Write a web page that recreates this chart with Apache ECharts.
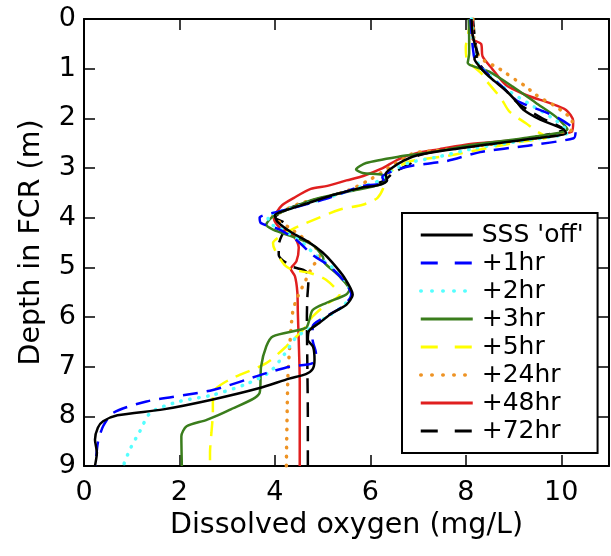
<!DOCTYPE html>
<html>
<head>
<meta charset="utf-8">
<script src="https://cdn.jsdelivr.net/npm/echarts@6/dist/echarts.min.js"></script>
<style>
html,body{margin:0;padding:0;background:#fff;}
#chart{width:611px;height:556px;}
</style>
</head>
<body>
<div id="chart"></div>
<script>
// Series names (legend labels)
var seriesNames = ["SSS 'off'", "+1hr", "+2hr", "+3hr", "+5hr", "+24hr", "+48hr", "+72hr"];
var xTicks = [0, 2, 4, 6, 8, 10];
var yTicks = [0, 1, 2, 3, 4, 5, 6, 7, 8, 9];

// Each profile: [dissolved oxygen (mg/L), depth (m)]
var sssOff = [[8.12,0],[8.14,0.3],[8.2,0.55],[8.25,0.7],[8.18,0.8],[8.28,0.95],[8.42,1.1],[8.6,1.25],[8.85,1.45],[9.05,1.65],[9.2,1.82],[9.55,2.02],[10.05,2.22],[10.1,2.3],[9.3,2.42],[8.5,2.52],[7.6,2.64],[7.0,2.74],[6.7,2.85],[6.45,3.0],[6.32,3.12],[6.35,3.25],[6.15,3.35],[5.8,3.4],[5.2,3.55],[4.65,3.72],[4.2,3.86],[4.0,3.95],[4.05,4.08],[4.35,4.3],[4.72,4.5],[5.0,4.7],[5.2,4.9],[5.45,5.2],[5.63,5.55],[5.5,5.75],[5.2,5.92],[4.93,6.12],[4.72,6.27],[4.69,6.46],[4.8,6.6],[4.83,6.86],[4.79,7.05],[4.65,7.15],[4.3,7.24],[3.68,7.43],[2.7,7.66],[1.66,7.86],[0.7,7.98],[0.4,8.1],[0.29,8.23],[0.23,8.47],[0.27,8.73],[0.23,9.0]];
var hr1 = [[8.1,0],[8.12,0.3],[8.15,0.6],[8.2,0.85],[8.45,1.1],[8.8,1.4],[9.05,1.63],[9.26,1.73],[9.6,1.85],[9.95,2.0],[10.3,2.27],[10.26,2.4],[9.3,2.55],[8.3,2.68],[7.6,2.86],[6.9,2.95],[6.6,3.02],[6.25,3.18],[6.3,3.3],[5.84,3.36],[5.07,3.62],[4.24,3.84],[3.68,4.0],[3.71,4.11],[4.1,4.24],[4.45,4.45],[4.79,4.75],[5.15,4.98],[5.49,5.32],[5.6,5.55],[5.42,5.79],[5.07,5.99],[4.79,6.19],[4.79,6.46],[4.86,6.73],[4.79,6.93],[4.31,7.0],[3.82,7.13],[2.7,7.47],[1.31,7.7],[0.61,7.93],[0.4,8.2],[0.29,8.53],[0.24,9.0]];
var hr2 = [[8.12,0],[8.15,0.4],[8.2,0.8],[8.45,1.1],[8.9,1.45],[9.4,1.75],[9.9,2.05],[10.15,2.28],[9.2,2.45],[8.2,2.6],[7.4,2.78],[6.8,2.9],[6.4,3.08],[6.2,3.25],[5.8,3.38],[5.1,3.6],[4.3,3.82],[3.85,3.98],[3.9,4.12],[4.2,4.26],[4.55,4.48],[4.85,4.75],[5.2,5.0],[5.5,5.3],[5.6,5.55],[5.4,5.8],[5.0,6.05],[4.7,6.25],[4.45,6.4],[4.2,6.75],[3.9,7.1],[3.4,7.35],[2.7,7.57],[2.0,7.7],[1.4,7.92],[1.17,8.3],[0.96,8.67],[0.82,9.0]];
var hr3 = [[8.06,0],[8.07,0.4],[8.07,0.7],[8.04,0.88],[8.49,1.06],[8.98,1.36],[9.47,1.69],[9.89,1.97],[10.13,2.22],[9.2,2.4],[8.08,2.54],[7.3,2.68],[6.61,2.77],[5.91,2.9],[5.7,3.03],[5.84,3.1],[6.26,3.14],[6.34,3.24],[6.19,3.34],[5.56,3.47],[4.87,3.62],[4.35,3.8],[3.95,3.98],[3.82,4.14],[3.96,4.24],[4.45,4.41],[4.79,4.55],[5.0,4.78],[5.04,4.91],[5.35,5.18],[5.56,5.45],[5.49,5.55],[5.07,5.72],[4.79,5.86],[4.72,6.06],[4.65,6.22],[3.96,6.39],[3.82,6.59],[3.71,7.0],[3.68,7.53],[3.05,7.87],[2.57,8.07],[2.15,8.2],[2.04,8.4],[2.05,9.0]];
var hr5 = [[8.1,0],[8.05,0.3],[8.0,0.56],[8.03,0.83],[8.32,1.09],[8.42,1.23],[8.74,1.6],[8.91,1.86],[9.26,2.1],[9.5,2.27],[9.7,2.38],[9.16,2.47],[8.7,2.55],[7.66,2.75],[6.82,2.87],[6.45,3.05],[6.26,3.24],[6.3,3.3],[6.15,3.6],[5.84,3.74],[5.35,3.84],[4.65,4.11],[4.41,4.21],[4.1,4.38],[3.96,4.51],[4.0,4.65],[4.2,4.95],[4.37,5.05],[4.72,5.11],[5.07,5.25],[5.35,5.55],[5.07,5.75],[4.79,5.99],[4.65,6.19],[4.24,6.59],[3.82,6.93],[3.05,7.26],[2.7,7.53],[2.7,7.93],[2.67,8.33],[2.64,8.73],[2.64,8.9]];
var hr24 = [[8.15,0],[8.17,0.4],[8.25,0.7],[8.4,0.85],[8.63,0.96],[8.84,1.09],[9.05,1.23],[9.26,1.36],[9.43,1.5],[9.64,1.63],[9.89,1.76],[10.03,1.87],[10.23,2.03],[10.2,2.25],[9.3,2.42],[8.3,2.55],[7.4,2.65],[6.92,2.7],[6.54,2.9],[5.98,3.24],[5.49,3.47],[5.0,3.6],[4.5,3.72],[4.1,3.9],[3.95,3.98],[4.3,4.2],[4.65,4.45],[4.85,4.6],[4.93,4.78],[4.79,4.98],[4.65,5.25],[4.45,5.65],[4.37,5.92],[4.31,6.59],[4.27,7.26],[4.24,9.0]];
var hr48 = [[8.14,0],[8.14,0.4],[8.32,0.5],[8.35,0.75],[8.55,1.0],[8.84,1.33],[9.26,1.53],[9.75,1.69],[10.1,1.83],[10.25,2.05],[10.22,2.27],[9.1,2.43],[8.06,2.52],[7.45,2.62],[7.0,2.69],[6.6,2.82],[6.22,3.02],[5.85,3.16],[5.5,3.25],[5.1,3.36],[4.75,3.42],[4.4,3.6],[4.15,3.75],[4.03,3.9],[3.98,4.02],[4.08,4.18],[4.4,4.38],[4.5,4.6],[4.45,4.88],[4.33,5.03],[4.42,5.18],[4.47,5.5],[4.48,5.9],[4.5,6.5],[4.52,7.3],[4.52,8.0],[4.52,9.0]];
var hr72 = [[8.15,0],[8.18,0.3],[8.22,0.6],[8.25,0.85],[8.45,1.1],[8.8,1.4],[9.1,1.7],[9.6,2.0],[10.05,2.22],[9.3,2.4],[8.5,2.5],[7.6,2.62],[7.0,2.75],[6.82,2.92],[6.47,3.1],[6.3,3.25],[5.9,3.38],[5.3,3.52],[4.7,3.68],[4.2,3.85],[4.0,4.0],[4.16,4.08],[4.27,4.18],[4.15,4.35],[4.08,4.55],[4.08,4.75],[4.35,4.98],[4.65,5.08],[4.7,5.3],[4.68,5.6],[4.67,6.0],[4.68,7.0],[4.69,8.0],[4.69,9.0]];

var profiles = [sssOff, hr1, hr2, hr3, hr5, hr24, hr48, hr72];
var styles = [
  {color:'#000000', type:'solid', legendType:'solid'},
  {color:'#0000ff', type:[15,9], legendType:[17,17]},
  {color:'#55ffff', type:[0.5,8.5], cap:'round', width:3.5, legendType:[0.5,10.5]},
  {color:'#3a7d1c', type:'solid', legendType:'solid'},
  {color:'#ffff00', type:[15,9], legendType:[17,17]},
  {color:'#ee9324', type:[0.5,8.5], cap:'round', width:3.5, legendType:[0.5,10.5]},
  {color:'#e01f1f', type:'solid', legendType:'solid'},
  {color:'#000000', type:[15,9], legendType:[17,17]}
];

var FONT = 'DejaVu Sans';
var series = profiles.map(function(p, i){
  var s = styles[i];
  return {
    name: seriesNames[i],
    type: 'line',
    data: p,
    xAxisIndex: 0, yAxisIndex: 0,
    symbol: 'none',
    smooth: 0.25,
    z: 10 - i,
    lineStyle: {color: s.color, type: s.type, width: s.width || 2.5, cap: s.cap || 'butt'},
    itemStyle: {color: s.color}
  };
});
var legendData = seriesNames.map(function(n, i){
  var s = styles[i];
  return {name: n, lineStyle: {color: s.color, type: s.legendType, width: s.width ? 3.5 : 3, cap: s.cap || 'butt'}};
});

var chart = echarts.init(document.getElementById('chart'), null, {renderer:'canvas'});
var axisLineStyle = {show:true, onZero:false, lineStyle:{color:'#000', width:2}};
var tickStyle = {show:true, inside:true, length:11, lineStyle:{color:'#000', width:1.5}};
chart.setOption({
  animation: false,
  backgroundColor: '#fff',
  textStyle: {fontFamily: FONT},
  grid: {left:84, right:2, top:19, bottom:90, containLabel:false},
  legend: {
    orient: 'vertical',
    left: 402, top: 213,
    padding: [8, 14, 8, 17],
    itemGap: 0,
    itemWidth: 52, itemHeight: 14,
    backgroundColor: '#fff',
    borderColor: '#000', borderWidth: 2, borderRadius: 0,
    itemStyle: {opacity: 0},
    textStyle: {fontFamily: FONT, fontSize: 25, color:'#000', lineHeight: 28, padding:[0,0,0,4]},
    data: legendData
  },
  xAxis: [{
    type:'value', min:0, max:11, interval:2, position:'bottom',
    name:'Dissolved oxygen (mg/L)', nameLocation:'middle', nameGap:42,
    nameTextStyle:{fontFamily:FONT, fontSize:28.5, color:'#000'},
    axisLine: axisLineStyle, axisTick: tickStyle,
    axisLabel:{fontFamily:FONT, fontSize:27, color:'#000', margin:13, showMaxLabel:false},
    splitLine:{show:false}
  },{
    type:'value', min:0, max:11, interval:2, position:'top',
    axisLine: axisLineStyle, axisTick: tickStyle,
    axisLabel:{show:false}, splitLine:{show:false}
  }],
  yAxis: [{
    type:'value', min:0, max:9, interval:1, inverse:true, position:'left',
    name:'Depth in FCR (m)', nameLocation:'middle', nameGap:38, nameRotate:90,
    nameTextStyle:{fontFamily:FONT, fontSize:28.5, color:'#000'},
    axisLine: axisLineStyle, axisTick: tickStyle,
    axisLabel:{fontFamily:FONT, fontSize:27, color:'#000', margin:8},
    splitLine:{show:false}
  },{
    type:'value', min:0, max:9, interval:1, inverse:true, position:'right',
    axisLine: axisLineStyle, axisTick: tickStyle,
    axisLabel:{show:false}, splitLine:{show:false}
  }],
  series: series
});
</script>
</body>
</html>
